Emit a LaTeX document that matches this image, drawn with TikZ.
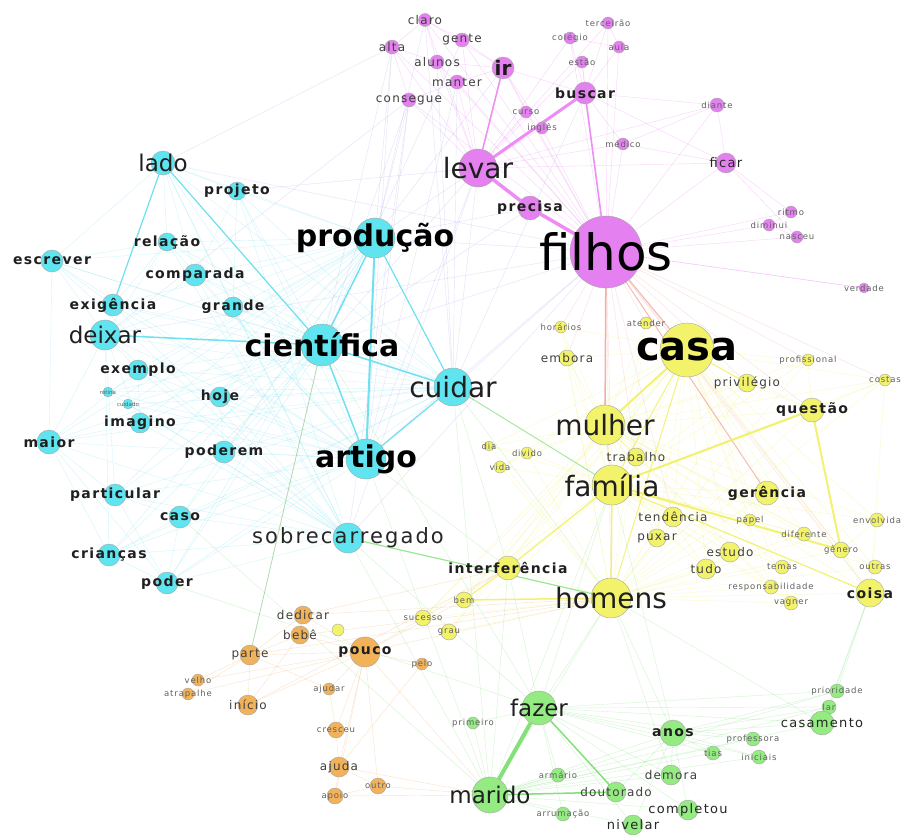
\documentclass[tikz,border=0pt]{standalone}
\usepackage{fontspec}
\setmainfont{DejaVu Sans}
\newfontfamily\fnsp[LetterSpace=10]{DejaVu Sans}
\pgfdeclarelayer{bg}\pgfdeclarelayer{fg}\pgfsetlayers{bg,main,fg}
\definecolor{cpk}{RGB}{228,128,240}
\definecolor{ccy}{RGB}{95,228,240}
\definecolor{cye}{RGB}{242,242,107}
\definecolor{cor}{RGB}{242,178,90}
\definecolor{cgr}{RGB}{147,235,130}
\definecolor{epkc}{RGB}{238,140,245}
\definecolor{ecyc}{RGB}{110,225,240}
\definecolor{eyec}{RGB}{240,240,90}
\definecolor{egrc}{RGB}{130,225,120}
\definecolor{eorc}{RGB}{245,185,120}
\definecolor{elavc}{RGB}{160,160,235}
\definecolor{esalc}{RGB}{240,130,120}
\tikzset{
  vtx/.style={circle, draw=black!35, line width=0.4pt, inner sep=0pt},
  lxt/.style={inner sep=0pt, font=\fontsize{5.5}{6}\selectfont, text=black!62},
  lt/.style={inner sep=0pt, font=\fnsp\fontsize{8.5}{9}\selectfont, text=black!62},
  ls/.style={inner sep=0pt, font=\fnsp\fontsize{12}{13}\selectfont, text=black!75},
  lsd/.style={inner sep=0pt, font=\fnsp\fontsize{13}{14}\selectfont, text=black!85},
  lm/.style={inner sep=0pt, font=\fnsp\bfseries\fontsize{14}{15}\selectfont, text=black!88},
  lir/.style={inner sep=0pt, font=\bfseries\fontsize{20}{21}\selectfont, text=black!90},
  lmid/.style={inner sep=0pt, font=\fontsize{23}{24}\selectfont, text=black!88},
  lsob/.style={inner sep=0pt, font=\fnsp\fontsize{21}{22}\selectfont, text=black!85},
  lbig/.style={inner sep=0pt, font=\fontsize{28}{29}\selectfont, text=black!88},
  lbigb/.style={inner sep=0pt, font=\bfseries\fontsize{30}{31}\selectfont, text=black},
  lcasa/.style={inner sep=0pt, font=\bfseries\fontsize{40}{41}\selectfont, text=black},
  lhuge/.style={inner sep=0pt, font=\fontsize{50}{51}\selectfont, text=black},
  epk/.style={draw=epkc, line width=0.45pt, opacity=0.35},
  ecy/.style={draw=ecyc, line width=0.4pt, opacity=0.3},
  eye/.style={draw=eyec, line width=0.4pt, opacity=0.3},
  egr/.style={draw=egrc, line width=0.4pt, opacity=0.35},
  eor/.style={draw=eorc, line width=0.4pt, opacity=0.4},
  elav/.style={draw=elavc, line width=0.4pt, opacity=0.3},
  esal/.style={draw=esalc, line width=0.4pt, opacity=0.25},
}
\newcommand\V[7]{\node[vtx, fill=#5, minimum size=#4*2pt] (#1) at (#2,#3) {};
  \begin{pgfonlayer}{fg}\node[#6] (#1-l) at (#2,#3) {#7};\end{pgfonlayer}}
\begin{document}
\begin{tikzpicture}[x=1pt,y=-1pt]
\begin{pgfonlayer}{bg}
\fill[white] (0,0) rectangle (903,835);
\end{pgfonlayer}
\useasboundingbox (0,0) rectangle (903,835);
% ---------- pink ----------
\V{claro}{425}{20}{6.5}{cpk}{ls}{claro}
\V{gente}{462}{40}{7}{cpk}{ls}{gente}
\V{alta}{392}{47}{7}{cpk}{ls}{alta}
\V{alunos}{437}{62}{7}{cpk}{ls}{alunos}
\V{manter}{457}{82}{7}{cpk}{ls}{manter}
\V{consegue}{409}{100}{7}{cpk}{ls}{consegue}
\V{ir}{503}{68}{11}{cpk}{lir}{ir}
\V{terceirao}{608}{23}{6}{cpk}{lt}{terceirão}
\V{colegio}{570}{38}{6}{cpk}{lt}{colégio}
\V{aula}{619}{47}{6}{cpk}{lt}{aula}
\V{estao}{582}{62}{6}{cpk}{lt}{estão}
\V{buscar}{585}{93}{11}{cpk}{lm}{buscar}
\V{curso}{526}{112}{6}{cpk}{lt}{curso}
\V{ingles}{542}{128}{6}{cpk}{lt}{inglês}
\V{medico}{623}{144}{6}{cpk}{lt}{médico}
\V{diante}{717}{105}{7}{cpk}{lt}{diante}
\V{ficar}{726}{163}{10}{cpk}{lsd}{ficar}
\V{ritmo}{791}{212}{6}{cpk}{lt}{ritmo}
\V{diminui}{769}{225}{6}{cpk}{lt}{diminui}
\V{nasceu}{797}{237}{6}{cpk}{lt}{nasceu}
\V{verdade}{864}{288}{5}{cpk}{lt}{verdade}
\V{levar}{478}{168}{19}{cpk}{lbig}{levar}
\V{precisa}{530}{208}{12}{cpk}{lm}{precisa}
\V{filhos}{606}{252}{36}{cpk}{lhuge}{filhos}
% ---------- cyan ----------
\V{lado}{163}{163}{12}{ccy}{lmid}{lado}
\V{projeto}{237}{191}{9}{ccy}{lm}{projeto}
\V{relacao}{167}{242}{9}{ccy}{lm}{relação}
\V{escrever}{52}{261}{11}{ccy}{lm}{escrever}
\V{comparada}{195}{275}{11}{ccy}{lm}{comparada}
\V{exigencia}{113}{305}{11}{ccy}{lm}{exigência}
\V{grande}{233}{307}{10}{ccy}{lm}{grande}
\V{deixar}{105}{335}{15}{ccy}{lmid}{deixar}
\V{exemplo}{138}{370}{10}{ccy}{lm}{exemplo}
\V{rotina}{108}{392}{5}{ccy}{lxt}{rotina}
\V{cuidado}{128}{404}{5}{ccy}{lxt}{cuidado}
\V{hoje}{220}{397}{10}{ccy}{lm}{hoje}
\V{imagino}{140}{423}{10}{ccy}{lm}{imagino}
\V{maior}{49}{442}{12}{ccy}{lm}{maior}
\V{poderem}{224}{452}{11}{ccy}{lm}{poderem}
\V{particular}{115}{495}{11}{ccy}{lm}{particular}
\V{caso}{180}{517}{11}{ccy}{lm}{caso}
\V{criancas}{109}{555}{11}{ccy}{lm}{crianças}
\V{poder}{167}{583}{11}{ccy}{lm}{poder}
\V{cientifica}{322}{345}{21}{ccy}{lbigb}{científica}
\V{producao}{375}{238}{20}{ccy}{lbigb}{produção}
\V{cuidar}{453}{387}{19}{ccy}{lbig}{cuidar}
\V{artigo}{366}{459}{20}{ccy}{lbigb}{artigo}
\V{sobrecarregado}{348}{538}{15}{ccy}{lsob}{sobrecarregado}
% ---------- yellow ----------
\V{horarios}{561}{327}{6}{cye}{lt}{horários}
\V{atender}{646}{323}{6}{cye}{lt}{atender}
\V{embora}{567}{358}{8}{cye}{ls}{embora}
\V{casa}{687}{350}{27}{cye}{lcasa}{casa}
\V{privilegio}{747}{383}{9}{cye}{ls}{privilégio}
\V{profissional}{808}{360}{6}{cye}{lt}{profissional}
\V{costas}{885}{380}{6}{cye}{lt}{costas}
\V{questao}{812}{410}{12}{cye}{lm}{questão}
\V{mulher}{605}{425}{20}{cye}{lbig}{mulher}
\V{trabalho}{636}{457}{9}{cye}{ls}{trabalho}
\V{familia}{612}{485}{20}{cye}{lbig}{família}
\V{gerencia}{767}{493}{12}{cye}{lm}{gerência}
\V{dia}{489}{446}{5}{cye}{lt}{dia}
\V{divido}{527}{453}{6}{cye}{lt}{divido}
\V{vida}{500}{467}{6}{cye}{lt}{vida}
\V{tendencia}{673}{517}{10}{cye}{ls}{tendência}
\V{papel}{750}{520}{6}{cye}{lt}{papel}
\V{diferente}{804}{534}{7}{cye}{lt}{diferente}
\V{genero}{841}{550}{8}{cye}{lt}{gênero}
\V{envolvida}{877}{520}{7}{cye}{lt}{envolvida}
\V{puxar}{657}{538}{9}{cye}{ls}{puxar}
\V{estudo}{730}{552}{10}{cye}{ls}{estudo}
\V{tudo}{706}{569}{10}{cye}{ls}{tudo}
\V{temas}{782}{567}{7}{cye}{lt}{temas}
\V{outras}{875}{567}{7}{cye}{lt}{outras}
\V{responsabilidade}{771}{587}{7}{cye}{lt}{responsabilidade}
\V{vagner}{791}{603}{7}{cye}{lt}{vagner}
\V{coisa}{870}{593}{14}{cye}{lm}{coisa}
\V{homens}{611}{598}{20}{cye}{lbig}{homens}
\V{interferencia}{508}{568}{12}{cye}{lm}{interferência}
\V{bem}{464}{600}{8}{cye}{lt}{bem}
\V{sucesso}{423}{618}{8}{cye}{lt}{sucesso}
\V{grau}{449}{632}{8}{cye}{lt}{grau}
\V{umy}{338}{630}{6}{cye}{lt}{}
% ---------- orange ----------
\V{dedicar}{303}{615}{9}{cor}{ls}{dedicar}
\V{bebe}{300}{635}{9}{cor}{ls}{bebê}
\V{parte}{250}{655}{10}{cor}{ls}{parte}
\V{pouco}{365}{652}{15}{cor}{lm}{pouco}
\V{pelo}{422}{664}{6}{cor}{lt}{pelo}
\V{velho}{198}{680}{6}{cor}{lt}{velho}
\V{atrapalhe}{188}{694}{6}{cor}{lt}{atrapalhe}
\V{inicio}{248}{705}{10}{cor}{ls}{início}
\V{ajudar}{329}{689}{6}{cor}{lt}{ajudar}
\V{cresceu}{336}{730}{8}{cor}{lt}{cresceu}
\V{ajuda}{339}{767}{10}{cor}{ls}{ajuda}
\V{outro}{378}{786}{8}{cor}{lt}{outro}
\V{apoio}{335}{796}{8}{cor}{lt}{apoio}
% ---------- green ----------
\V{fazer}{539}{708}{17}{cgr}{lmid}{fazer}
\V{primeiro}{473}{723}{6}{cgr}{lt}{primeiro}
\V{anos}{673}{733}{13}{cgr}{lm}{anos}
\V{prioridade}{837}{691}{7}{cgr}{lt}{prioridade}
\V{lar}{829}{707}{7}{cgr}{lt}{lar}
\V{casamento}{822}{723}{12}{cgr}{lsd}{casamento}
\V{professora}{753}{739}{7}{cgr}{lt}{professora}
\V{tias}{713}{753}{7}{cgr}{lt}{tias}
\V{iniciais}{759}{757}{7}{cgr}{lt}{iniciais}
\V{armario}{558}{775}{7}{cgr}{lt}{armário}
\V{demora}{671}{775}{10}{cgr}{ls}{demora}
\V{marido}{490}{795}{18}{cgr}{lmid}{marido}
\V{doutorado}{616}{792}{10}{cgr}{ls}{doutorado}
\V{arrumacao}{563}{814}{7}{cgr}{lt}{arrumação}
\V{completou}{688}{810}{10}{cgr}{lsd}{completou}
\V{nivelar}{633}{825}{10}{cgr}{lsd}{nivelar}
% ================= edges =================
\begin{pgfonlayer}{bg}
% lavender cross-cluster
\foreach \a/\b in {alta/cientifica, consegue/cientifica, alta/producao, consegue/producao, claro/producao, gente/cientifica, alunos/cuidar, manter/cuidar, levar/producao, levar/cientifica, levar/cuidar, levar/artigo, filhos/producao, filhos/cientifica, filhos/cuidar, filhos/artigo, filhos/deixar, ir/producao, precisa/cientifica, consegue/deixar, alta/lado, buscar/cuidar, filhos/sobrecarregado, levar/sobrecarregado, alta/artigo, consegue/artigo, claro/cuidar, manter/artigo, precisa/producao, levar/projeto, filhos/lado, consegue/sobrecarregado}
  \draw[elav] (\a) -- (\b);
% pink
\foreach \a in {claro,gente,alta,alunos,manter,consegue,ir,terceirao,colegio,aula,estao,buscar,curso,ingles,medico,diante,ficar,ritmo,diminui,nasceu,verdade,precisa}
  \draw[epk] (\a) -- (filhos);
\foreach \a in {claro,gente,alta,alunos,manter,consegue,terceirao,colegio,estao,curso,ingles,medico,diante,ficar}
  \draw[epk] (\a) -- (levar);
\foreach \a/\b in {claro/alta, claro/gente, claro/alunos, alta/alunos, alta/consegue, gente/ir, claro/ir, alunos/ir, manter/ir, consegue/manter, colegio/buscar, estao/buscar, aula/buscar, terceirao/buscar, ir/curso, ir/ingles, buscar/medico, buscar/diante, buscar/ficar, medico/ficar, diante/ficar, medico/diante, ficar/ritmo, ficar/nasceu, diminui/nasceu, ritmo/diminui, filhos/verdade, ir/buscar, colegio/aula, terceirao/aula}
  \draw[epk] (\a) -- (\b);
% salmon from filhos
\foreach \a in {horarios,atender,embora,privilegio,questao,familia,homens,trabalho,tendencia,coisa,profissional,costas,genero}
  \draw[esal] (filhos) -- (\a);
% cyan
\foreach \a in {lado,projeto,relacao,escrever,comparada,exigencia,grande,deixar,exemplo,rotina,cuidado,hoje,imagino,maior,poderem,particular,caso,criancas,poder}
  \foreach \b in {cientifica,producao,artigo,cuidar,sobrecarregado}
    \draw[ecy] (\a) -- (\b);
\foreach \a/\b in {lado/projeto, lado/relacao, lado/comparada, lado/escrever, lado/grande, deixar/escrever, deixar/exemplo, deixar/maior, deixar/particular, deixar/criancas, deixar/imagino, deixar/relacao, deixar/comparada, maior/criancas, maior/particular, maior/poder, maior/imagino, maior/exemplo, poder/criancas, poder/particular, poder/caso, escrever/exigencia, escrever/relacao, exemplo/imagino, hoje/poderem, caso/particular, criancas/caso, projeto/grande, projeto/comparada, escrever/maior, exigencia/relacao}
  \draw[ecy] (\a) -- (\b);
% yellow
\foreach \a in {horarios,atender,embora,privilegio,profissional,costas,questao,trabalho,gerencia,dia,divido,vida,tendencia,papel,diferente,genero,envolvida,puxar,estudo,tudo,temas,outras,responsabilidade,vagner,coisa,interferencia,bem,sucesso,grau}
  \foreach \b in {casa,mulher,familia,homens}
    \draw[eye] (\a) -- (\b);
\foreach \a/\b in {questao/costas, questao/profissional, questao/privilegio, coisa/envolvida, coisa/outras, coisa/genero, coisa/costas, genero/envolvida, estudo/tudo, papel/diferente, dia/divido, vida/divido}
  \draw[eye] (\a) -- (\b);
% green
\foreach \a in {primeiro,anos,prioridade,lar,casamento,professora,tias,iniciais,armario,demora,doutorado,arrumacao,completou,nivelar}
  \foreach \b in {fazer,marido}
    \draw[egr] (\a) -- (\b);
\foreach \a in {casamento,professora,tias,iniciais,demora,completou,doutorado,nivelar,prioridade,lar}
  \draw[egr] (anos) -- (\a);
\foreach \a/\b in {homens/fazer, homens/marido, homens/anos, homens/casamento, familia/fazer, familia/marido, interferencia/fazer, interferencia/marido, sobrecarregado/marido, sobrecarregado/fazer, artigo/marido, cientifica/fazer, cuidar/marido, coisa/casamento, coisa/prioridade, coisa/lar, casamento/prioridade, casamento/lar, homens/demora, familia/anos, artigo/interferencia, cuidar/interferencia, cuidar/homens, caso/marido, poder/fazer}
  \draw[egr] (\a) -- (\b);
% orange
\foreach \a in {dedicar,bebe,pelo,velho,atrapalhe,inicio,ajudar,cresceu,ajuda,outro,apoio,parte}
  \draw[eor] (\a) -- (pouco);
\foreach \a in {dedicar,bebe,velho,atrapalhe,inicio,ajudar}
  \draw[eor] (\a) -- (parte);
\foreach \a/\b in {bebe/dedicar, bebe/inicio, ajuda/cresceu, ajuda/outro, ajuda/apoio, apoio/outro, cresceu/ajudar, dedicar/homens, bebe/homens, pouco/homens, pouco/interferencia, pouco/bem, pouco/marido, ajuda/marido, outro/marido, apoio/marido, dedicar/interferencia, inicio/interferencia, pelo/ajuda, parte/homens}
  \draw[eor] (\a) -- (\b);
% ---- strong edges ----
\draw[draw=epkc, line width=1.5pt] (ir) -- (levar);
\draw[draw=epkc, line width=3pt] (levar) -- (buscar);
\draw[draw=epkc, line width=3.5pt] (levar) -- (precisa);
\draw[draw=epkc, line width=3.5pt] (precisa) -- (filhos);
\draw[draw=epkc, line width=1.5pt] (buscar) -- (filhos);
\draw[draw=esalc, line width=1.5pt, opacity=0.65] (filhos) -- (mulher);
\draw[draw=esalc, line width=1.2pt, opacity=0.55] (filhos) -- (casa);
\draw[draw=esalc, line width=1pt, opacity=0.55] (filhos) -- (gerencia);
\draw[draw=ecyc, line width=1.5pt] (producao) -- (cientifica);
\draw[draw=ecyc, line width=2pt] (producao) -- (artigo);
\draw[draw=ecyc, line width=1.2pt] (producao) -- (cuidar);
\draw[draw=ecyc, line width=1.5pt] (cientifica) -- (artigo);
\draw[draw=ecyc, line width=1.5pt] (cientifica) -- (cuidar);
\draw[draw=ecyc, line width=1.2pt] (artigo) -- (cuidar);
\draw[draw=ecyc, line width=1.2pt] (lado) -- (cientifica);
\draw[draw=ecyc, line width=1.2pt] (lado) -- (exigencia);
\draw[draw=ecyc, line width=1.5pt] (deixar) -- (cientifica);
\draw[draw=eyec, line width=2pt, opacity=0.85] (casa) -- (mulher);
\draw[draw=eyec, line width=1pt, opacity=0.8] (casa) -- (familia);
\draw[draw=eyec, line width=1pt, opacity=0.8] (casa) -- (homens);
\draw[draw=eyec, line width=1pt, opacity=0.8] (casa) -- (privilegio);
\draw[draw=eyec, line width=1pt, opacity=0.8] (mulher) -- (familia);
\draw[draw=eyec, line width=1.5pt, opacity=0.85] (familia) -- (homens);
\draw[draw=eyec, line width=2pt, opacity=0.85] (familia) -- (questao);
\draw[draw=eyec, line width=2pt, opacity=0.85] (familia) -- (genero);
\draw[draw=eyec, line width=1.2pt, opacity=0.8] (familia) -- (coisa);
\draw[draw=eyec, line width=2pt, opacity=0.85] (questao) -- (genero);
\draw[draw=eyec, line width=1.2pt, opacity=0.8] (interferencia) -- (familia);
\draw[draw=eyec, line width=1.5pt, opacity=0.85] (bem) -- (homens);
\draw[draw=eyec, line width=1pt, opacity=0.8] (bem) -- (interferencia);
\draw[draw=egrc, line width=1.2pt, opacity=0.8] (sobrecarregado) -- (homens);
\draw[draw=egrc, line width=1pt, opacity=0.7] (cuidar) -- (familia);
\draw[draw=egrc!80!black, line width=0.8pt, opacity=0.5] (cientifica) -- (parte);
\draw[draw=egrc, line width=4pt] (fazer) -- (marido);
\draw[draw=egrc, line width=1.5pt] (fazer) -- (doutorado);
\draw[draw=egrc, line width=1.5pt] (marido) -- (doutorado);
\end{pgfonlayer}
\end{tikzpicture}
\end{document}
